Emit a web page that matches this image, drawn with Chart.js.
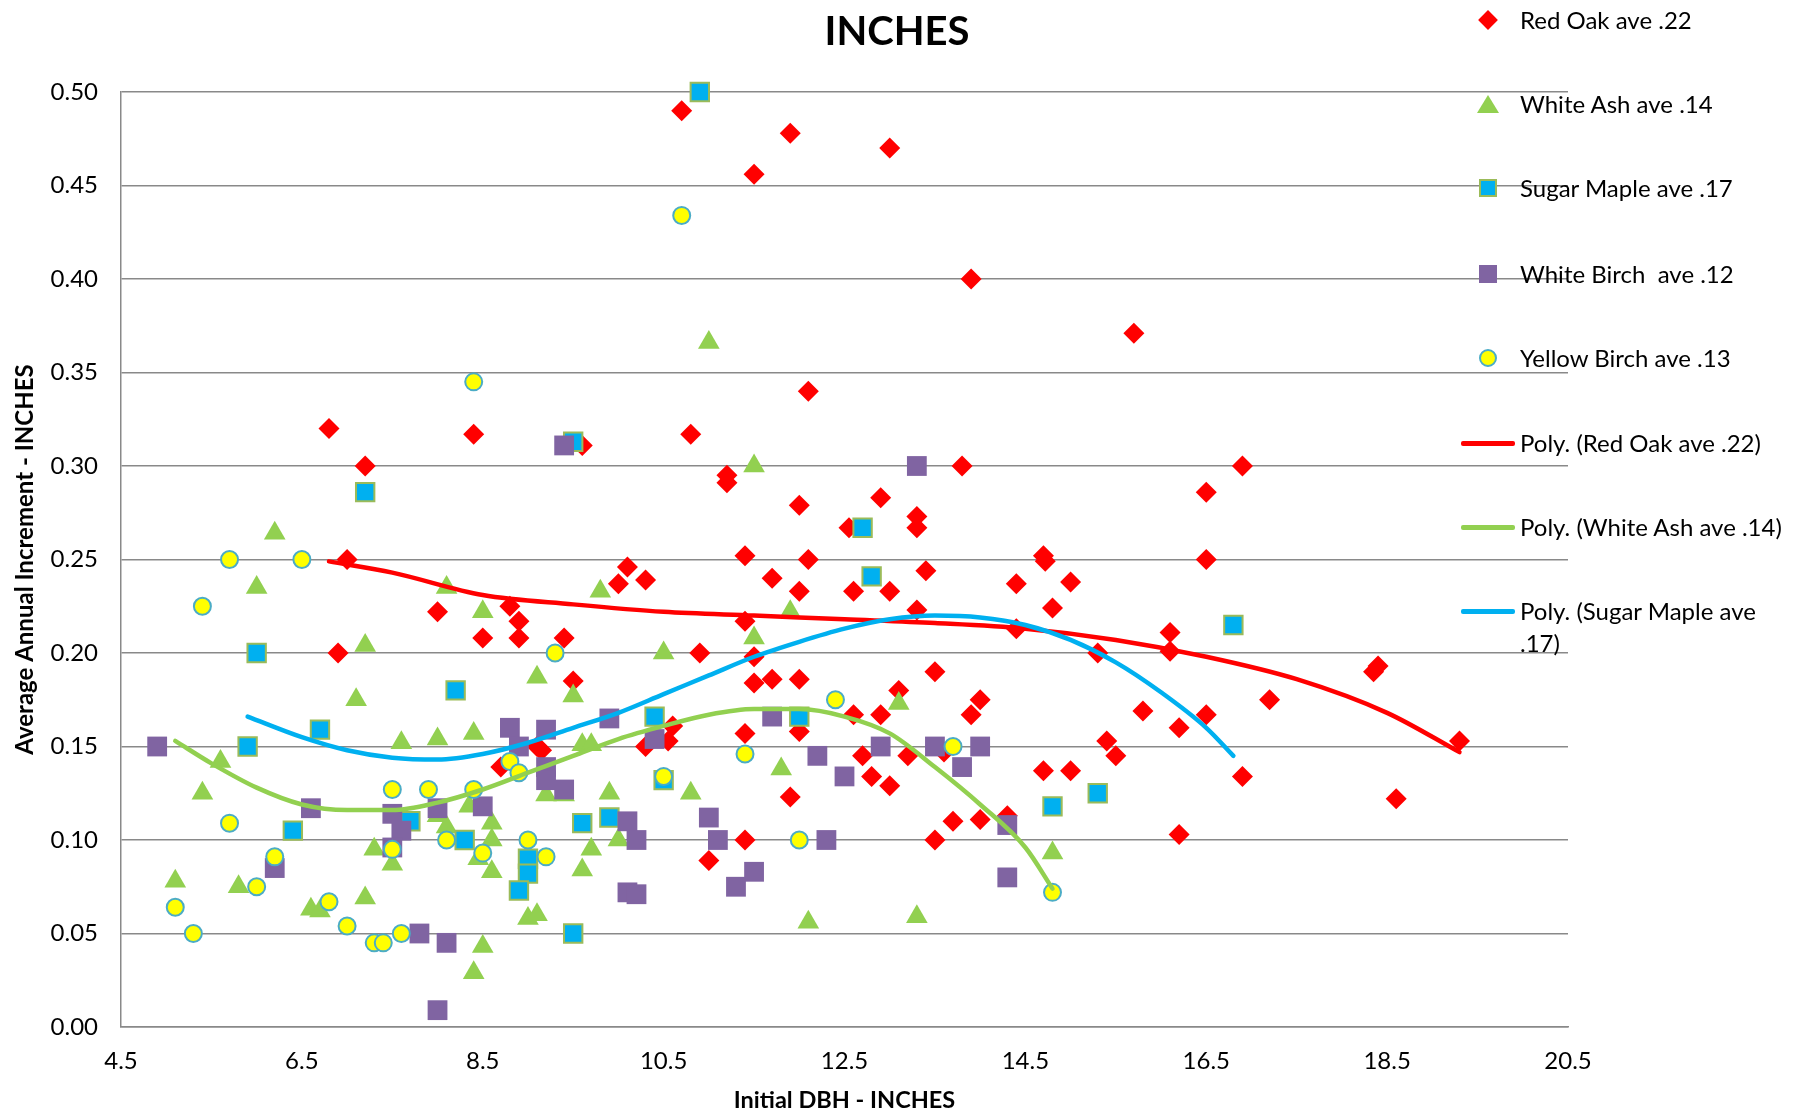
<!DOCTYPE html>
<html>
<head>
<meta charset="utf-8">
<script src="https://cdn.jsdelivr.net/npm/chart.js@4.4.1/dist/chart.umd.min.js"></script>
<style>
  body { margin: 0; background: #fff; }
  #marco { position: relative; width: 1812px; height: 1116px; font-family: Lato, "Open Sans", sans-serif; }
  #grafica { position: absolute; left: 0; top: 0; }
  .item { position: absolute; left: 1460px; height: 32px; line-height: 32px; font-size: 24px; color: #000; white-space: pre; }
  .item span.txt { position: absolute; left: 60px; top: 0; }
  .mk { position: absolute; }
</style>
</head>
<body>
<div id="marco">
  <canvas id="grafica" width="1812" height="1116"></canvas>
  <div id="leyenda"></div>
</div>
<script>
// Datos: DBH inicial (x) e incremento anual medio (y)
const redOakX = [10.7,11.9,13.0,11.5,13.9,15.7,12.1,6.8,8.4,10.8,9.6,7.2,13.8,16.9,11.2,11.2,16.5,12.9,12.0,13.3,13.3,12.55,7.0,12.1,11.4,16.5,14.7,14.72,13.4,10.1,10.3,10.0,11.7,14.4,15.0,12.0,12.6,13.0,8.8,8.0,13.3,14.8,8.9,11.4,14.4,16.1,6.9,8.5,8.9,9.4,10.9,15.3,16.1,11.5,13.5,18.35,18.4,11.5,11.7,12.0,9.5,13.1,14.0,17.2,15.8,12.6,12.9,13.9,16.5,10.6,11.4,12.0,16.2,10.55,15.4,19.3,10.3,9.1,9.15,12.7,13.2,15.5,13.6,8.7,14.7,15.0,12.8,16.9,13.0,11.9,18.6,14.3,13.7,14.0,11.4,13.5,16.2,11.0];
const redOakY = [0.49,0.478,0.47,0.456,0.40,0.371,0.34,0.32,0.317,0.317,0.311,0.30,0.30,0.30,0.295,0.291,0.286,0.283,0.279,0.273,0.267,0.267,0.25,0.25,0.252,0.25,0.252,0.249,0.244,0.246,0.239,0.237,0.24,0.237,0.238,0.233,0.233,0.233,0.225,0.222,0.223,0.224,0.217,0.217,0.213,0.211,0.20,0.208,0.208,0.208,0.20,0.20,0.201,0.198,0.19,0.19,0.193,0.184,0.186,0.186,0.185,0.18,0.175,0.175,0.169,0.167,0.167,0.167,0.167,0.161,0.157,0.158,0.16,0.153,0.153,0.153,0.15,0.15,0.148,0.145,0.145,0.145,0.147,0.139,0.137,0.137,0.134,0.134,0.129,0.123,0.122,0.113,0.11,0.111,0.10,0.10,0.103,0.089];

const whiteAshX = [11.0,11.5,6.2,6.0,8.1,9.8,8.5,11.9,11.5,7.2,10.5,9.1,9.5,7.1,13.1,7.6,8.0,8.4,9.6,9.7,5.6,11.8,5.4,9.2,9.4,9.9,10.8,8.0,8.1,8.35,8.6,8.6,10.0,7.3,9.7,7.5,8.45,8.6,9.6,14.8,5.1,5.8,7.2,6.6,6.7,9.0,9.1,12.1,13.3,8.5,8.4];
const whiteAshY = [0.366,0.30,0.264,0.235,0.235,0.233,0.222,0.222,0.208,0.204,0.20,0.187,0.177,0.175,0.173,0.152,0.154,0.157,0.151,0.151,0.142,0.138,0.125,0.124,0.124,0.125,0.125,0.113,0.107,0.118,0.109,0.10,0.10,0.095,0.095,0.087,0.09,0.083,0.084,0.093,0.078,0.075,0.069,0.063,0.062,0.058,0.06,0.056,0.059,0.043,0.029];

const sugarMapleX = [10.9,9.5,7.2,12.7,12.8,16.8,6.0,8.2,10.4,12.0,6.7,5.9,10.5,15.3,14.8,7.7,9.9,9.6,6.4,8.3,9.0,9.0,8.9,9.5];
const sugarMapleY = [0.50,0.313,0.286,0.267,0.241,0.215,0.20,0.18,0.166,0.166,0.159,0.15,0.132,0.125,0.118,0.11,0.112,0.109,0.105,0.10,0.09,0.082,0.073,0.05];

const whiteBirchX = [9.4,13.3,9.9,11.7,8.8,9.2,10.4,8.9,4.9,12.9,13.5,14.0,12.2,9.2,13.8,12.5,9.2,9.4,6.6,8.0,8.5,7.5,11.0,10.1,14.3,7.6,10.2,11.1,12.3,7.5,6.2,11.5,14.3,11.3,10.1,10.2,7.8,8.1,8.0];
const whiteBirchY = [0.311,0.30,0.165,0.166,0.16,0.159,0.154,0.15,0.15,0.15,0.15,0.15,0.145,0.139,0.139,0.134,0.132,0.127,0.117,0.117,0.118,0.114,0.112,0.11,0.108,0.105,0.10,0.10,0.10,0.096,0.085,0.083,0.08,0.075,0.072,0.071,0.05,0.045,0.009];

const yellowBirchX = [10.7,8.4,5.7,6.5,5.4,9.3,12.4,13.7,11.4,8.8,8.9,10.5,7.5,7.9,8.4,5.7,8.1,9.0,12.0,7.5,8.5,6.2,9.2,6.0,14.8,6.8,5.1,7.0,5.3,7.6,7.3,7.4];
const yellowBirchY = [0.434,0.345,0.25,0.25,0.225,0.20,0.175,0.15,0.146,0.142,0.136,0.134,0.127,0.127,0.127,0.109,0.10,0.10,0.10,0.095,0.093,0.091,0.091,0.075,0.072,0.067,0.064,0.054,0.05,0.05,0.045,0.045];

// Lineas de tendencia
const polyRedX = [6.8,7.5,8.5,9.5,10.5,11.5,12.5,13.5,14.5,15.5,16.5,17.5,18.5,19.3];
const polyRedY = [0.249,0.243,0.231,0.226,0.222,0.220,0.218,0.216,0.213,0.207,0.198,0.186,0.168,0.147];
const polyAshX = [5.1,5.5,6.0,6.5,7.0,7.5,8.0,8.5,9.0,9.5,10.0,10.5,11.0,11.5,12.0,12.5,13.0,13.5,14.0,14.5,14.8];
const polyAshY = [0.153,0.141,0.128,0.119,0.116,0.116,0.120,0.127,0.136,0.145,0.154,0.161,0.167,0.170,0.170,0.166,0.157,0.139,0.119,0.096,0.074];
const polyMapleX = [5.9,6.5,7.0,7.5,8.0,8.5,9.0,9.5,10.0,10.5,11.0,11.5,12.0,12.5,13.0,13.5,14.0,14.5,15.0,15.5,16.0,16.5,16.8];
const polyMapleY = [0.166,0.155,0.148,0.144,0.143,0.146,0.152,0.160,0.168,0.178,0.188,0.198,0.206,0.213,0.218,0.220,0.219,0.215,0.207,0.195,0.179,0.160,0.145];

const xTicks = [4.5,6.5,8.5,10.5,12.5,14.5,16.5,18.5,20.5];

const nombres = ["Red Oak ave .22","White Ash ave .14","Sugar Maple ave .17","White Birch  ave .12","Yellow Birch ave .13",
                 "Poly. (Red Oak ave .22)","Poly. (White Ash ave .14)","Poly. (Sugar Maple ave .17)"];

const fuente = "Lato, 'Open Sans', sans-serif";

function puntos(xs, ys){
    return xs.map((x,i)=>({x:x, y:ys[i]}));
}

function serie(nombre, xs, ys, estilo, orden){
    return Object.assign({
        label: nombre,
        data: puntos(xs, ys),
        showLine: false,
        borderWidth: 0,
        pointHoverRadius: 0,
        order: orden,
        clip: false
    }, estilo);
}

function tendencia(nombre, xs, ys, color, orden){
    return {
        type: "line",
        label: nombre,
        data: puntos(xs, ys),
        borderColor: color,
        borderWidth: 4.5,
        pointRadius: 0,
        fill: false,
        cubicInterpolationMode: "monotone",
        borderCapStyle: "round",
        order: orden,
        clip: false
    };
}

new Chart("grafica", {
    type: "scatter",
    data: {
        datasets: [
            serie(nombres[0], redOakX, redOakY, {pointStyle:"rectRot", pointRadius:10.5, backgroundColor:"#FF0000", pointBorderWidth:0}, 8),
            serie(nombres[1], whiteAshX, whiteAshY, {pointStyle:"triangle", pointRadius:12.5, backgroundColor:"#92D050", pointBorderWidth:0}, 7),
            serie(nombres[2], sugarMapleX, sugarMapleY, {pointStyle:"rect", pointRadius:13, backgroundColor:"#00B0F0", borderColor:"#9BBB59", pointBorderWidth:2}, 6),
            serie(nombres[3], whiteBirchX, whiteBirchY, {pointStyle:"rect", pointRadius:14, backgroundColor:"#8064A2", pointBorderWidth:0}, 5),
            serie(nombres[4], yellowBirchX, yellowBirchY, {pointStyle:"circle", pointRadius:8.5, backgroundColor:"#FFFF00", borderColor:"#4BACC6", pointBorderWidth:2}, 4),
            tendencia(nombres[5], polyRedX, polyRedY, "#FF0000", 3),
            tendencia(nombres[6], polyAshX, polyAshY, "#92D050", 2),
            tendencia(nombres[7], polyMapleX, polyMapleY, "#00B0F0", 1)
        ]
    },
    options: {
        responsive: false,
        animation: false,
        devicePixelRatio: 1,
        layout: { padding: { left: 0, right: 18, top: 0, bottom: 0 } },
        plugins: {
            legend: { display: false },
            tooltip: { enabled: false },
            title: {
                display: true,
                text: "INCHES",
                color: "#000",
                font: { family: fuente, size: 40, weight: "bold", lineHeight: 1.2 },
                padding: { top: 8, bottom: 36 }
            }
        },
        scales: {
            x: {
                type: "linear",
                min: 4.5,
                max: 20.5,
                afterBuildTicks: (eje) => { eje.ticks = xTicks.map(v => ({value: v})); },
                afterFit: (eje) => { eje.height = 89; },
                grid: { display: false, drawTicks: false },
                border: { display: true, color: "#898989", width: 1.5 },
                ticks: {
                    color: "#000",
                    padding: 20,
                    font: { family: fuente, size: 24 },
                    callback: (v) => Number(v).toFixed(1)
                },
                title: {
                    display: true,
                    text: "Initial DBH - INCHES",
                    color: "#000",
                    font: { family: fuente, size: 23.5, weight: "bold", lineHeight: 1.2 },
                    padding: { top: 0, bottom: 1 }
                }
            },
            y: {
                type: "linear",
                min: 0,
                max: 0.5,
                afterFit: (eje) => { eje.width = 121; },
                grid: { color: "#898989", lineWidth: 1.5, drawTicks: false },
                border: { display: true, color: "#898989", width: 1.5 },
                ticks: {
                    stepSize: 0.05,
                    color: "#000",
                    padding: 23,
                    font: { family: fuente, size: 24 },
                    callback: (v) => Number(v).toFixed(2)
                },
                title: {
                    display: true,
                    text: "Average Annual Increment - INCHES",
                    color: "#000",
                    font: { family: fuente, size: 24, weight: "bold", lineHeight: 1.2 },
                    padding: { top: 11, bottom: 0 }
                }
            },
            // eje vacio a la derecha: deja sitio para la leyenda
            espacio: {
                type: "linear",
                position: "right",
                display: true,
                afterFit: (eje) => { eje.width = 226; },
                grid: { display: false, drawTicks: false },
                border: { display: false },
                ticks: { display: false }
            }
        }
    }
});

// Leyenda en HTML, superpuesta a la derecha como en el original
const marcas = [
    '<div class="mk" style="left:21px;top:9px;width:14px;height:14px;background:#FF0000;transform:rotate(45deg)"></div>',
    '<div class="mk" style="left:17px;top:7px;width:0;height:0;border-left:11px solid transparent;border-right:11px solid transparent;border-bottom:18px solid #92D050"></div>',
    '<div class="mk" style="left:19px;top:7px;width:14px;height:14px;background:#00B0F0;border:2px solid #9BBB59"></div>',
    '<div class="mk" style="left:19px;top:7px;width:18px;height:18px;background:#8064A2"></div>',
    '<div class="mk" style="left:19px;top:7px;width:14px;height:14px;border-radius:50%;background:#FFFF00;border:2px solid #4BACC6"></div>',
    '<div class="mk" style="left:1px;top:14px;width:54px;height:4.5px;border-radius:2px;background:#FF0000"></div>',
    '<div class="mk" style="left:1px;top:14px;width:54px;height:4.5px;border-radius:2px;background:#92D050"></div>',
    '<div class="mk" style="left:1px;top:14px;width:54px;height:4.5px;border-radius:2px;background:#00B0F0"></div>'
];
const filas = [20,104,188,274,358,443,527,611];
const textos = nombres.slice();
textos[7] = "Poly. (Sugar Maple ave\n.17)";
const leyenda = document.getElementById("leyenda");
leyenda.innerHTML = filas.map((cy,i) =>
    `<div class="item" style="top:${cy-16}px">${marcas[i]}<span class="txt">${textos[i]}</span></div>`
).join("");
</script>
</body>
</html>
